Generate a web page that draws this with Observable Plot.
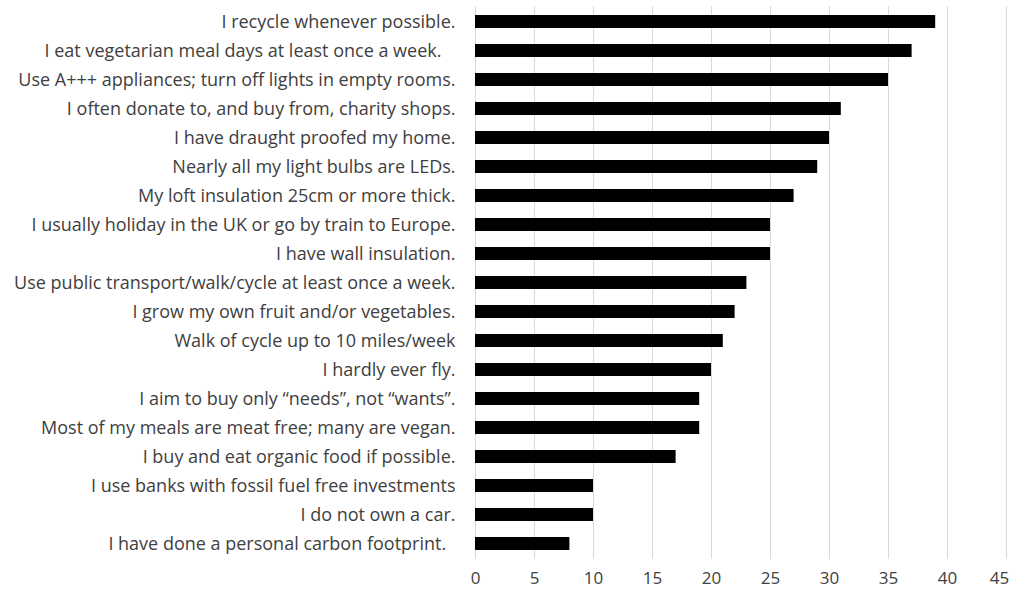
<!DOCTYPE html>
<html><head><meta charset="utf-8">
<script src="https://cdn.jsdelivr.net/npm/d3@7"></script>
<script src="https://cdn.jsdelivr.net/npm/@observablehq/plot@0.6"></script>
<style>body{margin:0;background:#fff;} svg{display:block;}</style>
</head><body><div id="chart"></div>
<script>
const categories = [
  "I recycle whenever possible.",
  "I eat vegetarian meal days at least once a week.\u00a0\u00a0\u00a0",
  "Use A+++ appliances; turn off lights in empty rooms.",
  "I often donate to, and buy from, charity shops.",
  "I have draught proofed my home.",
  "Nearly all my light bulbs are LEDs.",
  "My loft insulation 25cm or more thick.",
  "I usually holiday in the UK or go by train to Europe.",
  "I have wall insulation.",
  "Use public transport/walk/cycle at least once a week.",
  "I grow my own fruit and/or vegetables.",
  "Walk of cycle up to 10 miles/week",
  "I hardly ever fly.",
  "I aim to buy only \u201cneeds\u201d, not \u201cwants\u201d.",
  "Most of my meals are meat free; many are vegan.",
  "I buy and eat organic food if possible.",
  "I use banks with fossil fuel free investments",
  "I do not own a car.",
  "I have done a personal carbon footprint.\u00a0\u00a0"
];
const values = [39, 37, 35, 31, 30, 29, 27, 25, 25, 23, 22, 21, 20, 19, 19, 17, 10, 10, 8];
const xTicks = [0, 5, 10, 15, 20, 25, 30, 35, 40, 45];
const data = categories.map((c, i) => ({category: c, value: values[i]}));

const chart = Plot.plot({
  width: 1012,
  height: 592,
  marginLeft: 475,
  marginRight: 6,
  marginTop: 6,
  marginBottom: 33,
  style: {fontFamily: "'Open Sans', sans-serif", fontSize: "17px", color: "#404040", background: "#fff"},
  x: {domain: [0, 45], ticks: xTicks, label: null},
  y: {domain: categories, label: null, paddingInner: 0.55, paddingOuter: 0.275},
  marks: [
    Plot.gridX(xTicks, {stroke: "#d9d9d9", strokeOpacity: 1, strokeWidth: 1}),
    Plot.barX(data, {x: "value", y: "category", fill: "#000"}),
    Plot.axisX(xTicks.slice(0, -1), {tickSize: 0, tickPadding: 12, label: null, fontSize: 17}),
    Plot.axisX(xTicks.slice(-1), {tickSize: 0, tickPadding: 12, label: null, fontSize: 17, dx: -7}),
    Plot.axisY({tickSize: 0, tickPadding: 20, label: null, fontSize: 18})
  ]
});
document.getElementById("chart").appendChild(chart);
</script>
</body></html>
